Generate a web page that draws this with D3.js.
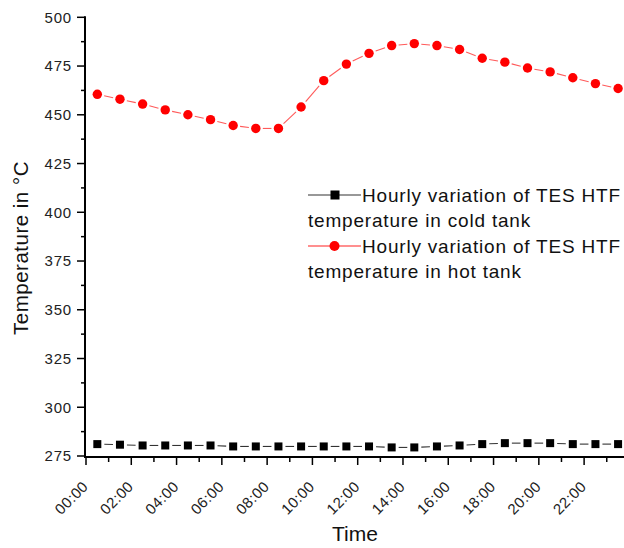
<!DOCTYPE html>
<html>
<head>
<meta charset="utf-8">
<script src="https://cdn.jsdelivr.net/npm/d3@7"></script>
<style>
  html, body { margin: 0; padding: 0; background: #fff; }
  svg { display: block; font-family: Arial, "Liberation Sans", sans-serif; }
</style>
</head>
<body>
<svg id="chart" width="624" height="548"></svg>
<script>
// Hour of each reading (half past each hour)
const hours = [0.5, 1.5, 2.5, 3.5, 4.5, 5.5, 6.5, 7.5, 8.5, 9.5, 10.5, 11.5,
               12.5, 13.5, 14.5, 15.5, 16.5, 17.5, 18.5, 19.5, 20.5, 21.5, 22.5, 23.5];
// HTF temperature in the cold tank (°C)
const coldTank = [281.1, 280.8, 280.4, 280.4, 280.4, 280.4, 279.9, 279.9, 279.9, 279.9, 279.9, 279.9,
                  279.9, 279.4, 279.4, 279.9, 280.4, 281.1, 281.6, 281.6, 281.6, 281.1, 281.1, 281.1];
// HTF temperature in the hot tank (°C)
const hotTank = [460.5, 458, 455.5, 452.5, 450, 447.5, 444.5, 443, 443, 454, 467.5, 476,
                 481.5, 485.5, 486.5, 485.5, 483.5, 479, 477, 474, 472, 469, 466, 463.5];
// Axis ticks
const xTickHours = [0, 2, 4, 6, 8, 10, 12, 14, 16, 18, 20, 22];
const xTickLabels = ["00:00", "02:00", "04:00", "06:00", "08:00", "10:00",
                     "12:00", "14:00", "16:00", "18:00", "20:00", "22:00"];
const yTicks = [275, 300, 325, 350, 375, 400, 425, 450, 475, 500];
const legendLabels = [
  ["Hourly variation of TES HTF", "temperature in cold tank"],
  ["Hourly variation of TES HTF", "temperature in hot tank"]
];

const svg = d3.select("#chart");
const x = d3.scaleLinear().domain([0, 24]).range([86, 629.4]);
const y = d3.scaleLinear().domain([275, 500]).range([456, 17.3]);
const axisColor = "#000";
const labelColor = "#222";

// Y axis
const yAxis = svg.append("g").attr("transform", `translate(${x(0) - 1},0)`);
yAxis.append("line").attr("y1", y(500) - 1).attr("y2", y(275) + 1)
  .attr("stroke", axisColor).attr("stroke-width", 2);
const yMinor = d3.range(287.5, 500, 25);
yAxis.selectAll(".ymaj").data(yTicks).join("line")
  .attr("x1", -8).attr("x2", 0).attr("y1", d => y(d)).attr("y2", d => y(d))
  .attr("stroke", axisColor).attr("stroke-width", 1.5);
yAxis.selectAll(".ymin").data(yMinor).join("line")
  .attr("x1", -4).attr("x2", 0).attr("y1", d => y(d)).attr("y2", d => y(d))
  .attr("stroke", axisColor).attr("stroke-width", 1.5);
yAxis.selectAll(".ylab").data(yTicks).join("text")
  .attr("x", -13).attr("y", d => y(d)).attr("dy", "0.36em")
  .attr("text-anchor", "end").attr("font-size", 15).attr("letter-spacing", 0.8)
  .attr("fill", labelColor)
  .text(d => d);

// X axis
const xAxis = svg.append("g").attr("transform", `translate(0,${y(275) + 1})`);
xAxis.append("line").attr("x1", x(0) - 2).attr("x2", 624)
  .attr("stroke", axisColor).attr("stroke-width", 2);
const xMinor = d3.range(1, 24, 2);
xAxis.selectAll(".xmaj").data(xTickHours).join("line")
  .attr("x1", d => x(d)).attr("x2", d => x(d)).attr("y1", 0).attr("y2", 8)
  .attr("stroke", axisColor).attr("stroke-width", 1.5);
xAxis.selectAll(".xmin").data(xMinor).join("line")
  .attr("x1", d => x(d)).attr("x2", d => x(d)).attr("y1", 0).attr("y2", 5)
  .attr("stroke", axisColor).attr("stroke-width", 1.5);
xAxis.selectAll(".xlab").data(xTickHours).join("text")
  .attr("transform", d => `translate(${x(d) + 3},${30.5}) rotate(-45)`)
  .attr("text-anchor", "end").attr("font-size", 15).attr("letter-spacing", 0.4)
  .attr("fill", labelColor)
  .text((d, i) => xTickLabels[i]);

// Axis titles
svg.append("text").attr("x", 355).attr("y", 541)
  .attr("text-anchor", "middle").attr("font-size", 21).attr("fill", "#111").text("Time");
svg.append("text").attr("transform", "translate(27.5,248) rotate(-90)")
  .attr("text-anchor", "middle").attr("font-size", 20.5).attr("letter-spacing", 0.5)
  .attr("fill", "#111").text("Temperature in °C");

// Connecting lines drawn as segments that stop short of each marker
function gappedSegments(g, values, color, gap) {
  const pts = hours.map((h, i) => [x(h), y(values[i])]);
  const segs = [];
  for (let i = 0; i < pts.length - 1; i++) {
    const [x1, y1] = pts[i], [x2, y2] = pts[i + 1];
    const len = Math.hypot(x2 - x1, y2 - y1);
    if (len <= 2 * gap) continue;
    const ux = (x2 - x1) / len, uy = (y2 - y1) / len;
    segs.push([x1 + ux * gap, y1 + uy * gap, x2 - ux * gap, y2 - uy * gap]);
  }
  g.selectAll("line").data(segs).join("line")
    .attr("x1", d => d[0]).attr("y1", d => d[1]).attr("x2", d => d[2]).attr("y2", d => d[3])
    .attr("stroke", color).attr("stroke-width", 1.1);
}

const coldG = svg.append("g");
gappedSegments(coldG.append("g"), coldTank, "#333", 7);
coldG.selectAll("rect").data(hours).join("rect")
  .attr("x", (d, i) => x(d) - 4).attr("y", (d, i) => y(coldTank[i]) - 4)
  .attr("width", 8).attr("height", 8).attr("fill", "#000");

const hotG = svg.append("g");
gappedSegments(hotG.append("g"), hotTank, "#ff5a5a", 7);
hotG.selectAll("circle").data(hours).join("circle")
  .attr("cx", d => x(d)).attr("cy", (d, i) => y(hotTank[i])).attr("r", 4.7)
  .attr("fill", "#ff0000");

// Legend
const legend = svg.append("g");
const legendRows = [
  { color: "#333", marker: "square", top: 195 },
  { color: "#ff2020", marker: "circle", top: 246 }
];
legendRows.forEach((row, i) => {
  const g = legend.append("g");
  g.append("line").attr("x1", 308).attr("x2", 361).attr("y1", row.top).attr("y2", row.top)
    .attr("stroke", row.color).attr("stroke-width", 1.1);
  if (row.marker === "square") {
    g.append("rect").attr("x", 330.5).attr("y", row.top - 4.5).attr("width", 9).attr("height", 9).attr("fill", "#000");
  } else {
    g.append("circle").attr("cx", 334.5).attr("cy", row.top).attr("r", 5).attr("fill", "#ff0000");
  }
  g.append("text").attr("x", 362).attr("y", row.top + 6.8)
    .attr("font-size", 19).attr("letter-spacing", 0.8).attr("fill", "#111").text(legendLabels[i][0]);
  g.append("text").attr("x", 308).attr("y", row.top + 32)
    .attr("font-size", 19).attr("letter-spacing", 0.8).attr("fill", "#111").text(legendLabels[i][1]);
});
</script>
</body>
</html>
